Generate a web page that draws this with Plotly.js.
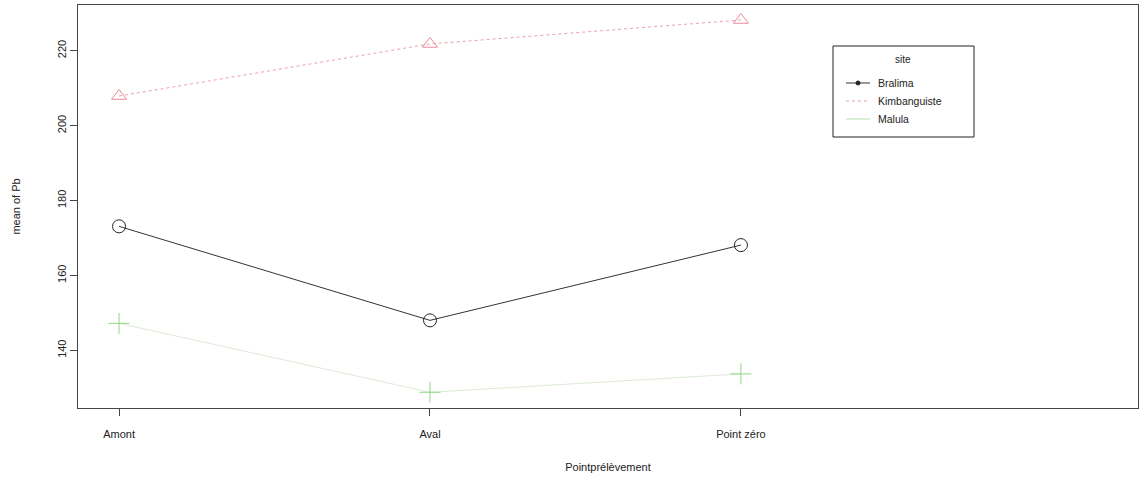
<!DOCTYPE html>
<html><head><meta charset="utf-8">
<script src="https://cdn.plot.ly/plotly-3.0.1.min.js"></script>
<style>body{margin:0;background:#fff}#c{width:1144px;height:481px}</style>
</head><body><div id="c"></div>
<script>
const categories = ["Amont", "Aval", "Point zéro"];
const siteNames = ["Bralima", "Kimbanguiste", "Malula"];
const bralima = [173.1, 148.0, 168.1];
const kimbanguiste = [207.9, 221.8, 228.2];
const malula = [147.2, 128.8, 133.7];
const yTicks = [140, 160, 180, 200, 220];

const xpos = categories.map((c, i) => i + 1);
const colors = ["#222222", "#E8899A", "#8FD982"];
const lineColors = ["#333333", "#EBA0AD", "#DCEBD8"];
const dashes = ["solid", "dot", "solid"];
const symbols = ["circle-open", "triangle-up-open", "cross-thin-open"];
const series = [bralima, kimbanguiste, malula];

const traces = series.map((vals, k) => ({
  x: xpos, y: vals, type: "scatter", mode: "lines+markers", name: siteNames[k],
  line: {color: lineColors[k], width: 1, dash: dashes[k]},
  marker: {symbol: symbols[k], size: k === 2 ? 15 : 13, color: colors[k], line: {color: colors[k], width: 1}},
  showlegend: false, hoverinfo: "skip"
}));

const shapes = [{type: "rect", xref: "paper", yref: "paper", x0: (833-78)/1060, x1: (974-78)/1060, y0: (408-137)/403, y1: (408-46)/403, line: {color: "#222", width: 1}, fillcolor: "rgba(0,0,0,0)"}];
const annotations = [{xref: "paper", yref: "paper", x: (903-78)/1060, y: (408-60)/403, text: "site", showarrow: false, font: {family: "Liberation Sans, Arial", size: 10, color: "#222"}, xanchor: "center", yanchor: "middle"}];
const legY = [83, 101, 119];
siteNames.forEach((n, k) => {
  const yy = (408 - legY[k]) / 403;
  shapes.push({type: "line", xref: "paper", yref: "paper", x0: (846-78)/1060, x1: (870-78)/1060, y0: yy, y1: yy, line: {color: k === 2 ? "#B5E0AC" : lineColors[k], width: 1, dash: dashes[k]}});
  annotations.push({xref: "paper", yref: "paper", x: (876-78)/1060, y: yy, text: n, showarrow: false, xanchor: "left", yanchor: "middle", font: {family: "Liberation Sans, Arial", size: 10.5, color: "#222"}});
});
const lx = (858-78)/1060;
shapes.push({type: "circle", xref: "paper", yref: "paper", x0: lx - 2/1060, x1: lx + 2/1060, y0: (408-83)/403 - 2/403, y1: (408-83)/403 + 2/403, line: {color: colors[0], width: 1}, fillcolor: colors[0]});

const layout = {
  width: 1144, height: 481,
  margin: {l: 78, r: 6, t: 5, b: 73},
  paper_bgcolor: "#fff", plot_bgcolor: "#fff",
  font: {family: "Liberation Sans, Arial", size: 11, color: "#222"},
  xaxis: {range: [0.868, 4.277], tickvals: xpos, ticktext: categories, showgrid: false, zeroline: false,
    showline: true, mirror: true, linecolor: "#444", linewidth: 1, ticks: "outside", ticklen: 7, tickcolor: "#444",
    ticklabelstandoff: 9,
    tickfont: {size: 11}, title: {text: "Pointprélèvement", font: {size: 11}, standoff: 24}},
  yaxis: {range: [124.6, 232.2], tickvals: yTicks, showgrid: false, zeroline: false, tickangle: -90,
    showline: true, mirror: true, linecolor: "#444", linewidth: 1, ticks: "outside", ticklen: 7, tickcolor: "#444",
    tickfont: {size: 11}, title: {text: "mean of Pb", font: {size: 11}, standoff: 32}},
  shapes: shapes, annotations: annotations
};
Plotly.newPlot("c", traces, layout, {staticPlot: true});
</script></body></html>
